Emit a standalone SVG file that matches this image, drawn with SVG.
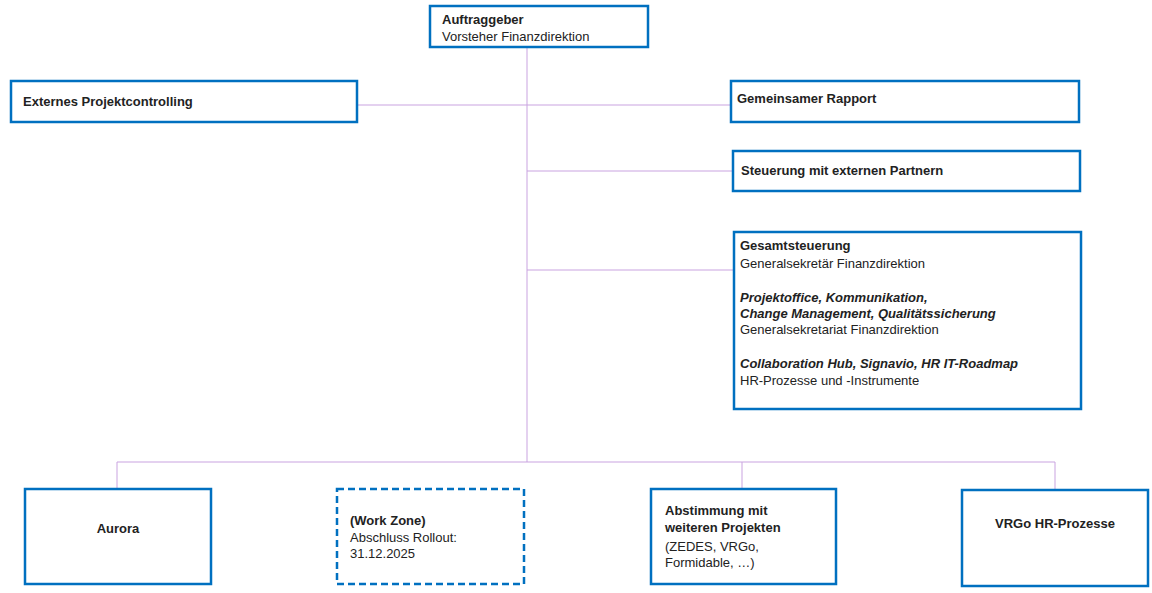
<svg xmlns="http://www.w3.org/2000/svg" width="1152" height="593" viewBox="0 0 1152 593">
<style>
.box{fill:#fff;stroke:#0070C0;stroke-width:2.5}
.dash{stroke-dasharray:7,4}
text{font-family:"Liberation Sans",Arial,sans-serif;font-size:13px;fill:#222}
.b{font-weight:bold}
.bi{font-weight:bold;font-style:italic}
.c{text-anchor:middle}
.ln{stroke:#C9A3E0;stroke-width:1;fill:none}
</style>
<rect width="1152" height="593" fill="#fff"/>
<g id="connectors">
<path class="ln" d="M527 47V462M357 105H731M527 171H733M527 270H734M117 462H1055M117 462V489M742 462V489M1055 462V490"/>
</g>
<g id="auftraggeber"><rect class="box" x="430" y="6" width="218" height="41"/><text x="442" y="24" class="b">Auftraggeber</text><text x="442" y="41">Vorsteher Finanzdirektion</text></g>
<g id="externes"><rect class="box" x="11" y="81" width="346" height="41"/><text x="23" y="106" class="b">Externes Projektcontrolling</text></g>
<g id="rapport"><rect class="box" x="731" y="81" width="348" height="41"/><text x="737" y="103" class="b">Gemeinsamer Rapport</text></g>
<g id="steuerung"><rect class="box" x="733" y="151" width="347" height="40"/><text x="741" y="175" class="b">Steuerung mit externen Partnern</text></g>
<g id="gesamt"><rect class="box" x="734" y="232" width="347" height="177"/>
<text x="740" y="250" class="b">Gesamtsteuerung</text><text x="740" y="268">Generalsekretär Finanzdirektion</text>
<text x="740" y="302" class="bi">Projektoffice, Kommunikation,</text><text x="740" y="318" class="bi">Change Management, Qualitätssicherung</text><text x="740" y="334">Generalsekretariat Finanzdirektion</text>
<text x="740" y="368" class="bi">Collaboration Hub, Signavio, HR IT-Roadmap</text><text x="740" y="385">HR-Prozesse und -Instrumente</text></g>
<g id="aurora"><rect class="box" x="25" y="489" width="186" height="95"/><text x="118" y="533" class="b c">Aurora</text></g>
<g id="workzone"><rect class="box dash" x="337" y="489" width="187" height="95"/><text x="350" y="525" class="b">(Work Zone)</text><text x="350" y="542">Abschluss Rollout:</text><text x="350" y="558">31.12.2025</text></g>
<g id="abstimmung"><rect class="box" x="651" y="489" width="185" height="95"/><text x="665" y="515" class="b">Abstimmung mit</text><text x="665" y="532" class="b">weiteren Projekten</text><text x="665" y="551">(ZEDES, VRGo,</text><text x="665" y="567">Formidable, …)</text></g>
<g id="vrgo"><rect class="box" x="962" y="490" width="186" height="96"/><text x="1055" y="528" class="b c">VRGo HR-Prozesse</text></g>
</svg>
